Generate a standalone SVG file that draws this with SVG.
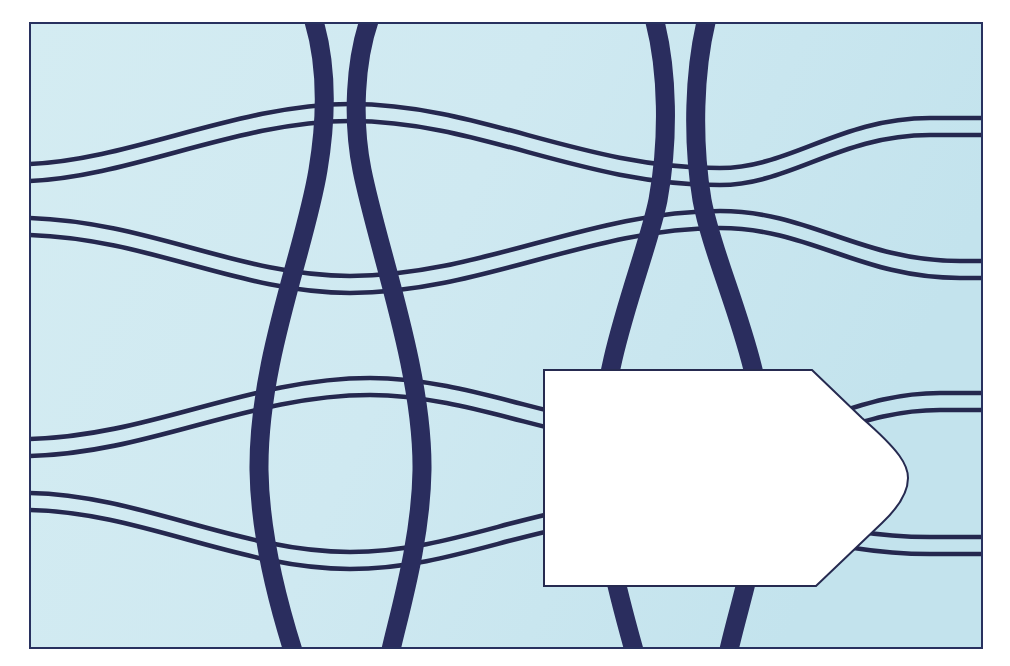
<svg xmlns="http://www.w3.org/2000/svg" width="1010" height="666" viewBox="0 0 1010 666">
  <defs>
    <linearGradient id="bg" x1="0" y1="0" x2="1" y2="0.3">
      <stop offset="0" stop-color="#d4ecf2"/>
      <stop offset="0.5" stop-color="#cfe9f1"/>
      <stop offset="1" stop-color="#c3e3ed"/>
    </linearGradient>
    <clipPath id="frameClip">
      <rect x="30" y="23" width="952" height="625"/>
    </clipPath>
    <style>
      .thin { fill: none; stroke: #25284f; stroke-width: 4.6; }
      .thick { fill: none; stroke: #2a2d5e; stroke-width: 19; }
      .box { fill: #ffffff; stroke: #262a50; stroke-width: 2; stroke-linejoin: miter; }
      .frame { fill: none; stroke: #28315f; stroke-width: 2; }
    </style>
    <path id="h1" d="M30,164 C130,160 240,104 350,104 C480,104 580,168 720,168 C790,168 840,118 930,118 L984,118"/>
    <path id="h2" d="M30,218 C150,222 240,276 350,276 C480,276 590,211 720,211 C810,211 860,261 960,261 L984,261"/>
    <path id="h3" d="M30,439 C150,436 250,378 370,378 C480,378 580,436 720,436 C810,436 855,393 940,393 L984,393"/>
    <path id="h4" d="M30,493 C140,495 240,552 350,552 C460,552 540,500 660,500 C760,500 820,537 930,537 L984,537"/>
  </defs>

  <rect id="background" x="30" y="23" width="952" height="625" fill="url(#bg)"/>

  <g id="connectors" clip-path="url(#frameClip)">
    <g id="horizontal-lines">
      <use href="#h1" class="thin"/>
      <use href="#h1" class="thin" transform="translate(0,17)"/>
      <use href="#h2" class="thin"/>
      <use href="#h2" class="thin" transform="translate(0,17)"/>
      <use href="#h3" class="thin"/>
      <use href="#h3" class="thin" transform="translate(0,17)"/>
      <use href="#h4" class="thin"/>
      <use href="#h4" class="thin" transform="translate(0,17)"/>
    </g>
    <g id="vertical-lines">
      <path class="thick" d="M313,18 C326,60 328,110 318,170 C305,250 258,360 259,470 C260,540 280,610 294,654"/>
      <path class="thick" d="M370,18 C355,60 352,120 362,170 C378,250 423,370 422,470 C421,540 400,610 390,654"/>
      <path class="thick" d="M654,18 C668,70 669,140 658,200 C646,260 600,360 600,460 C600,530 620,600 635,654"/>
      <path class="thick" d="M707,18 C694,70 692,140 702,200 C715,270 765,360 765,460 C765,530 740,600 728,654"/>
    </g>
  </g>

  <g id="node-box">
    <path class="box" d="M544,370 H812 L862,418 C900,451 908,465 908,478 C908,492 900,506 882,523 L816,586 H544 Z"/>
  </g>

  <rect id="frame" class="frame" x="30" y="23" width="952" height="625"/>
</svg>
